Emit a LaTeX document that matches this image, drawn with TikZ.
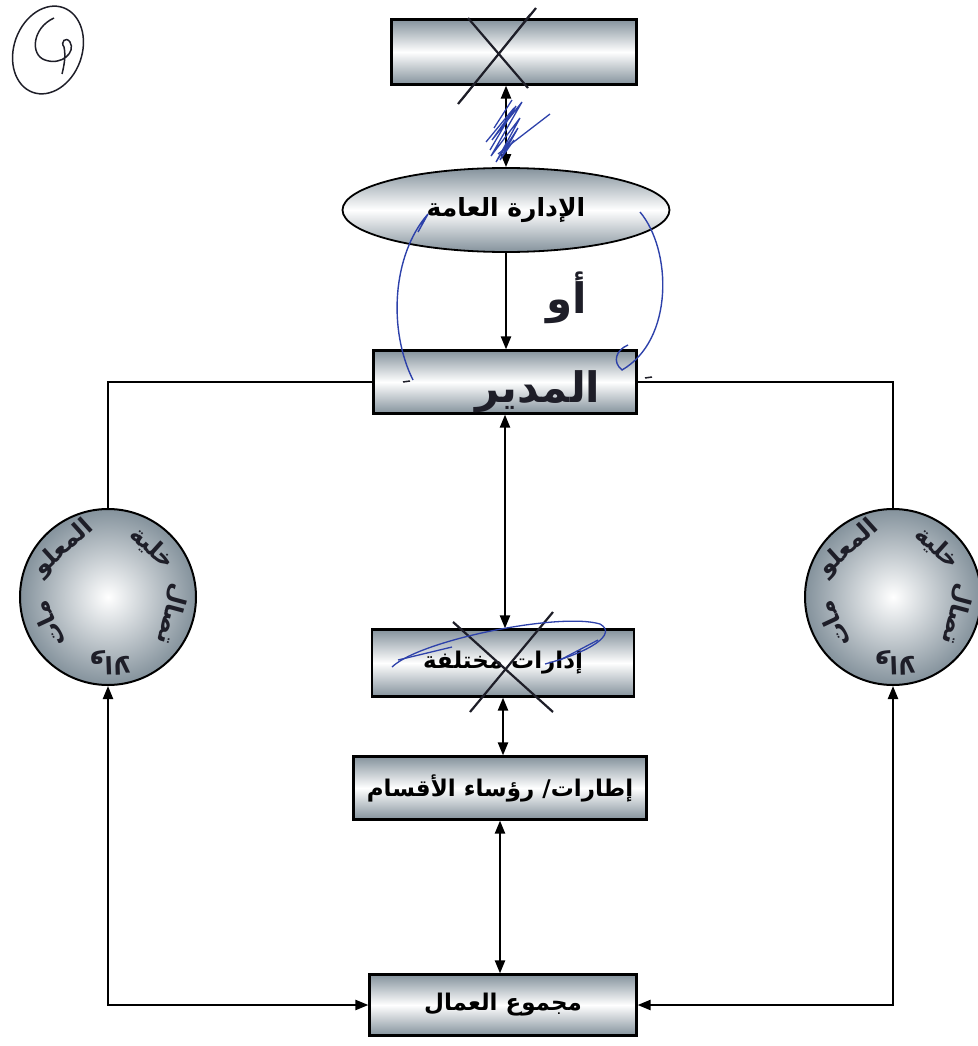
\documentclass[tikz,border=0pt]{standalone}
\usepackage{fontspec}
\usetikzlibrary{arrows.meta,shapes.geometric,calc}
\newfontfamily\arabicfont[Script=Arabic]{DejaVu Sans}
\TeXXeTstate=1
\definecolor{metal}{RGB}{132,146,156}
\definecolor{pen}{RGB}{30,30,40}
\definecolor{bluepen}{RGB}{45,65,170}
\begin{document}
\begin{tikzpicture}[x=1pt,y=-1pt,
  box/.style={draw=black,line width=2.2pt,top color=metal,bottom color=metal,middle color=white,inner sep=0pt,
    font=\arabicfont\bfseries\fontsize{23}{26}\selectfont},
  oval/.style={box,ellipse,line width=1.8pt,font=\arabicfont\bfseries\fontsize{25}{28}\selectfont},
  ring/.style={draw=black,line width=2pt,circle,inner color=white,outer color=metal,minimum size=176pt,inner sep=0pt},
  conn/.style={line width=2.2pt,draw=black},
  arr/.style={conn,-{Triangle[length=13pt,width=10pt]}},
  dbl/.style={conn,{Triangle[length=13pt,width=10pt]}-{Triangle[length=13pt,width=10pt]}},
  hand/.style={font=\arabicfont\bfseries\fontsize{24}{26}\selectfont,inner sep=0pt,text=pen},
  bighand/.style={font=\arabicfont\bfseries\fontsize{42}{46}\selectfont,inner sep=0pt,text=pen},
  scratch/.style={pen,line width=2.2pt},
  bluescr/.style={bluepen,line width=1.3pt}
]
\useasboundingbox (0,0) rectangle (977,1046);

% nodes
\node[box,minimum width=245pt,minimum height=65pt] (top) at (514,52) {};
\node[oval,minimum width=327pt,minimum height=84pt] (gm) at (506,210) {\beginR الإدارة العامة\endR};
\node[box,minimum width=263pt,minimum height=63pt] (dir) at (505,382) {};
\node[ring] (L) at (108,597) {};
\node[ring] (R) at (893,597) {};
\node[box,minimum width=262pt,minimum height=67pt] (depts) at (503,663) {\beginR إدارات مختلفة\endR};
\node[box,minimum width=293pt,minimum height=63pt] (heads) at (500,788) {\beginR إطارات/ رؤساء الأقسام\endR};
\node[box,minimum width=267pt,minimum height=61pt] (workers) at (503,1005) {\beginR مجموع العمال\endR};

% ring texts
\foreach \c in {L,R}{
  \foreach \a/\w in {48/خلية,132/المعلو,205/مات,272/والا,345/تصال}{
    \node[hand,rotate=\a-90] at ([shift={(\a:66pt)}]\c.center) {\beginR\w\endR};
  }
}

% connectors
\draw[dbl] (gm.north |- top.south) -- (gm.north);
\draw[arr] (gm.south) -- (gm.south |- dir.north);
\draw[conn] (dir.west) -| (L.north);
\draw[conn] (dir.east) -| (R.north);
\draw[dbl] (dir.south) -- (dir.south |- depts.north);
\draw[dbl] (depts.south) -- (depts.south |- heads.north);
\draw[dbl] (heads.south) -- (heads.south |- workers.north);
\draw[dbl] (L.south) |- (workers.west);
\draw[dbl] (R.south) |- (workers.east);

% handwriting
\node[bighand] (mudir) at (538,392) {\beginR المدير\endR};
\node[bighand] (aw) at (567,298) {\beginR أو\endR};

% crossing-out of the top box
\draw[scratch] (468,18) -- (528,88);
\draw[scratch] (536,8) -- (458,104);
\draw[scratch,line width=1pt] (530,14) -- (462,100);
% blue scribble on the top arrow
\draw[bluescr] (490,150) -- (516,106) -- (492,140) -- (522,102) -- (491,156) -- (520,118) -- (496,162) -- (518,128) -- (500,160) -- (514,140);
\draw[bluescr] (498,154) -- (550,114);
\draw[bluescr] (486,142) -- (514,108);
\draw[bluescr] (494,128) -- (512,100);

% crossing-out of the departments box
\draw[scratch] (453,622) -- (553,712);
\draw[scratch] (553,612) -- (470,712);
\draw[bluescr] (392,667) .. controls (420,640) and (560,612) .. (600,624) .. controls (618,634) and (590,652) .. (545,664);
\draw[bluescr] (398,660) -- (452,647);
\draw[bluescr] (560,660) -- (598,640);

% blue curved marks around the director box
\draw[bluescr,line width=1.4pt] (413,380) .. controls (388,330) and (392,255) .. (428,214) -- (418,232);
\draw[bluescr,line width=1.4pt] (640,212) .. controls (672,250) and (674,340) .. (622,370) .. controls (612,362) and (616,350) .. (628,345);
\draw[pen,line width=1.5pt] (403,382) -- (410,381);
\draw[pen,line width=1.5pt] (645,378) -- (652,377);

% circled mark in the top-left corner
\draw[pen,line width=1.5pt,rotate around={-20:(48,50)}] (48,50) ellipse [x radius=34, y radius=45];
\draw[pen,line width=1.5pt] (54,18) .. controls (32,28) and (30,55) .. (45,60) .. controls (62,66) and (76,52) .. (70,42) .. controls (66,36) and (60,42) .. (64,47) .. controls (66,56) and (64,66) .. (62,74);
\end{tikzpicture}
\end{document}
